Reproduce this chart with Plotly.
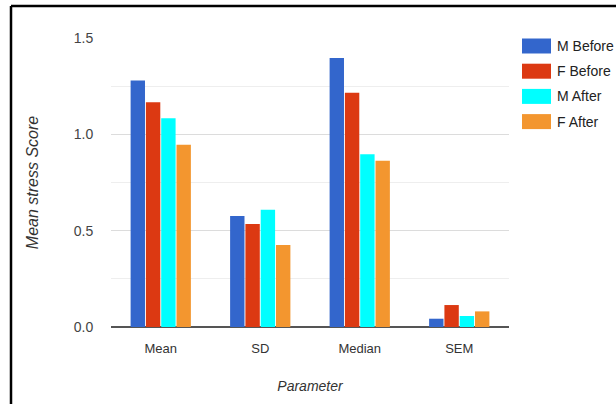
import plotly.graph_objects as go

# Summary statistics of the stress score, by sex and period
parameters = ["Mean", "SD", "Median", "SEM"]
series_names = ["M Before", "F Before", "M After", "F After"]
m_before = [1.28, 0.576, 1.396, 0.043]
f_before = [1.166, 0.535, 1.216, 0.114]
m_after = [1.083, 0.609, 0.896, 0.057]
f_after = [0.946, 0.426, 0.863, 0.081]
y_ticks = [0.0, 0.5, 1.0, 1.5]
y_tick_labels = ["0.0", "0.5", "1.0", "1.5"]

series_values = [m_before, f_before, m_after, f_after]
colors = ["#3366cc", "#dc3912", "#00ffff", "#f3962f"]

FONT = "Liberation Sans, Arial, sans-serif"
W, H = 616, 404
ML, MR, MT, MB = 111, 107, 38, 77
PW, PH = W - ML - MR, H - MT - MB


def px_x(x):
    return (x - ML) / PW


def px_y(y):
    return (H - MB - y) / PH


fig = go.Figure()
for name, vals, col in zip(series_names, series_values, colors):
    fig.add_trace(go.Bar(
        x=parameters, y=vals, name=name,
        marker=dict(color=col, line=dict(width=0)),
        showlegend=False,
    ))

shapes = []
annotations = []

# legend: coloured swatches with labels on the right of the plot
for i, (name, col) in enumerate(zip(series_names, colors)):
    yc = 46 + i * 25.2
    shapes.append(dict(
        type="rect", xref="paper", yref="paper",
        x0=px_x(522), x1=px_x(551), y0=px_y(yc - 7.5), y1=px_y(yc + 7.5),
        fillcolor=col, line=dict(width=0),
    ))
    annotations.append(dict(
        xref="paper", yref="paper", x=px_x(555), y=px_y(yc),
        xanchor="left", yanchor="middle", text=name, showarrow=False,
        font=dict(family=FONT, size=14, color="#222222"),
    ))

# frame lines along the top and left edges of the page
shapes.append(dict(type="line", xref="paper", yref="paper",
                   x0=px_x(11), x1=px_x(630), y0=px_y(6), y1=px_y(6),
                   line=dict(color="black", width=2.5)))
shapes.append(dict(type="line", xref="paper", yref="paper",
                   x0=px_x(11), x1=px_x(11), y0=px_y(6), y1=px_y(420),
                   line=dict(color="black", width=2.5)))

fig.update_layout(
    width=W, height=H,
    margin=dict(l=ML, r=MR, t=MT, b=MB, autoexpand=False),
    paper_bgcolor="white", plot_bgcolor="white",
    barmode="group", bargap=0.385, bargroupgap=0.06,
    font=dict(family=FONT, size=13, color="#444444"),
    shapes=shapes, annotations=annotations,
)
fig.update_xaxes(
    showgrid=False, showline=False, zeroline=False,
    ticks="outside", ticklen=9, tickcolor="rgba(0,0,0,0)",
    tickfont=dict(family=FONT, size=13, color="#333333"),
    title=dict(text="<i>Parameter</i>", standoff=26,
               font=dict(family=FONT, size=14, color="#333333")),
)
fig.update_yaxes(
    range=[0, 1.5], tickvals=y_ticks, ticktext=y_tick_labels,
    showgrid=True, gridcolor="#dcdcdc", gridwidth=1,
    minor=dict(dtick=0.25, showgrid=True, gridcolor="#eeeeee", gridwidth=1),
    zeroline=True, zerolinecolor="#555555", zerolinewidth=2,
    ticks="outside", ticklen=14, tickcolor="rgba(0,0,0,0)",
    tickfont=dict(family=FONT, size=14, color="#444444"),
    title=dict(text="<i>Mean stress Score</i>", standoff=31,
               font=dict(family=FONT, size=16, color="#333333")),
)

fig.write_html("out.html")
